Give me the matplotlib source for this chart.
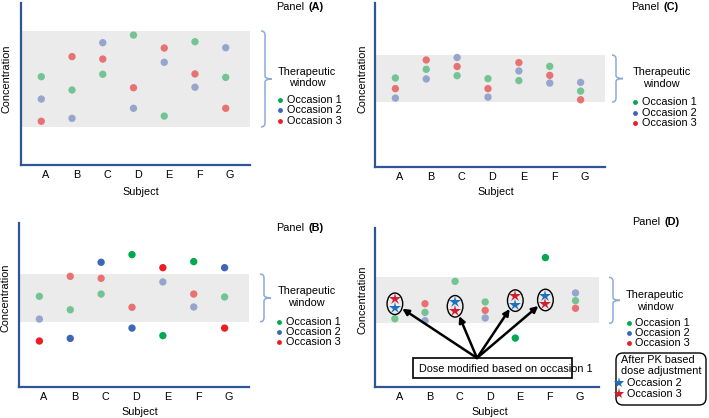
import matplotlib
matplotlib.use('Agg')
import matplotlib.pyplot as plt
import numpy as np
from matplotlib.path import Path
from matplotlib.patches import PathPatch, Ellipse, Rectangle, FancyBboxPatch
from matplotlib.transforms import ScaledTranslation

plt.rcParams['font.family'] = ['Liberation Sans', 'DejaVu Sans']

W, H = 709, 418
FS = 7.8

subjects = ['A', 'B', 'C', 'D', 'E', 'F', 'G']

# Panel A: all occasions inside the window
a_occ1 = [5.45, 4.63, 5.60, 8.02, 3.02, 7.61, 5.41]
a_occ2 = [4.07, 2.88, 7.55, 3.50, 6.34, 4.80, 7.24]
a_occ3 = [2.70, 6.69, 6.54, 4.77, 7.22, 5.62, 3.50]
a_window = (2.35, 8.27)

# Panel B: narrow window, large variability
b_occ1 = [5.52, 4.70, 5.66, 8.07, 3.12, 7.64, 5.48]
b_occ2 = [4.13, 2.95, 7.60, 3.58, 6.40, 4.87, 7.27]
b_occ3 = [2.79, 6.74, 6.62, 4.85, 7.27, 5.66, 3.58]
b_window = (3.97, 6.88)

# Panel C: narrow window, low variability
c_occ1 = [5.42, 5.95, 5.56, 5.38, 5.26, 6.13, 4.62]
c_occ2 = [4.19, 5.36, 6.67, 4.25, 5.85, 5.11, 5.15]
c_occ3 = [4.77, 6.52, 6.12, 4.77, 6.36, 5.58, 4.09]
c_window = (3.95, 6.82)

# Panel D: dose adjusted after occasion 1
d_occ1 = [4.29, 4.69, 6.65, 5.35, 3.07, 8.15, 5.43]
d_occ2 = [4.95, 4.17, 5.37, 4.34, 5.16, 5.75, 5.92]
d_occ3 = [5.52, 5.24, 4.78, 4.82, 5.71, 5.20, 4.95]
d_window = (4.00, 6.90)
d_adjusted = ['A', 'C', 'E', 'F']

strong = ['#00a84f', '#3c67b8', '#ee1c25']
faded = ['#74c493', '#96a5cc', '#e87272']
star_colors = ['#1f6fc0', '#d0202e']
spine_col = '#2f5597'
brace_col = '#8eaad6'

fig = plt.figure(figsize=(W / 100, H / 100), dpi=100)


def px_rect(l, t, r, b):
    return [l / W, 1 - b / H, (r - l) / W, (b - t) / H]


panels = [
    dict(name='A', rect=(21, 3, 250, 165), data=(a_occ1, a_occ2, a_occ3), win=a_window,
         lab=304, laby=7.3, ther=(307, 71.7, 83.3), leg=(280, 286.7, [100.3, 110.3, 120.7]),
         conc=(7, 78.3), subj=(141, 192), brace=265),
    dict(name='B', rect=(19, 223, 249, 386.7), data=(b_occ1, b_occ2, b_occ3), win=b_window,
         lab=304, laby=227.7, ther=(306.7, 291, 303.3), leg=(279.3, 285.7, [321.7, 332, 341.7]),
         conc=(6, 297.5), subj=(140, 411.7), brace=264),
    dict(name='C', rect=(375, 3, 605, 166.7), data=(c_occ1, c_occ2, c_occ3), win=c_window,
         lab=659.5, laby=7.3, ther=(661.7, 71.7, 84), leg=(635, 641.7, [102.3, 113.3, 123.3]),
         conc=(362.3, 79), subj=(495.8, 191.7), brace=616),
    dict(name='D', rect=(375, 228.3, 599.3, 386.7), data=(d_occ1, d_occ2, d_occ3), win=d_window,
         lab=660, laby=222, ther=(655, 295, 306.7), leg=(629, 635, [323, 333, 343]),
         conc=(362.3, 300), subj=(490, 411.7), brace=613),
]

over = fig.add_axes([0, 0, 1, 1], zorder=10)
over.set_xlim(0, W)
over.set_ylim(H, 0)
over.axis('off')
over.patch.set_alpha(0)

x = np.arange(len(subjects))
axes = {}
for p in panels:
    ax = fig.add_axes(px_rect(*p['rect']))
    axes[p['name']] = ax
    ax.set_xlim(-0.66, 6.79)
    ax.set_ylim(0, 10)
    lo, hi = p['win']
    ax.axhspan(lo, hi, color='#ebebeb', lw=0, zorder=0)
    for k, vals in enumerate(p['data']):
        vals = np.array(vals)
        inside = (vals >= lo) & (vals <= hi)
        cols = np.array([faded[k] if i else strong[k] for i in inside])
        keep = np.ones(len(vals), bool)
        if p['name'] == 'D' and k > 0:
            keep = np.array([s not in d_adjusted for s in subjects])
        ax.scatter(x[keep], vals[keep], s=28, c=cols[keep], lw=0, zorder=3)
    for s in ['top', 'right']:
        ax.spines[s].set_visible(False)
    for s in ['left', 'bottom']:
        ax.spines[s].set_color(spine_col)
        ax.spines[s].set_linewidth(1.6)
    ax.set_yticks([])
    ax.set_xticks(x)
    ax.set_xticklabels(subjects, fontsize=FS)
    ax.tick_params(axis='x', length=0, pad=3.6)
    for t in ax.get_xticklabels():
        t.set_transform(t.get_transform() + ScaledTranslation(4.5 / 100, 0, fig.dpi_scale_trans))

    # texts
    over.text(p['lab'], p['laby'], 'Panel', fontsize=FS, ha='right', va='center')
    over.text(p['lab'] + 4.5, p['laby'], '(%s)' % p['name'], fontsize=FS, ha='left', va='center',
              fontweight='bold')
    tx, ty1, ty2 = p['ther']
    over.text(tx, ty1, 'Therapeutic', fontsize=FS, ha='center', va='center')
    over.text(tx, ty2, 'window', fontsize=FS, ha='center', va='center')
    dx, lx, lys = p['leg']
    for k in range(3):
        over.plot(dx, lys[k], 'o', ms=3.5, color=strong[k], mew=0)
        over.text(lx, lys[k], 'Occasion %d' % (k + 1), fontsize=FS, ha='left', va='center')
    over.text(*p['conc'], 'Concentration', fontsize=FS, rotation=90, ha='center', va='center')
    over.text(*p['subj'], 'Subject', fontsize=FS, ha='center', va='center')

    # curly brace next to the window
    yt = H - ax.transData.transform((0, hi))[1]
    yb = H - ax.transData.transform((0, lo))[1]
    ym = (yt + yb) / 2
    xv = p['brace']
    verts = [(xv - 4, yt), (xv, yt), (xv, yt + 4), (xv, ym - 3), (xv, ym), (xv + 7, ym),
             (xv, ym), (xv, ym + 3), (xv, yb - 4), (xv, yb), (xv - 4, yb)]
    codes = [Path.MOVETO, Path.CURVE3, Path.CURVE3, Path.LINETO, Path.CURVE3, Path.CURVE3,
             Path.CURVE3, Path.CURVE3, Path.LINETO, Path.CURVE3, Path.CURVE3]
    over.add_patch(PathPatch(Path(verts, codes), fc='none', ec=brace_col, lw=1.1))

# Panel D: adjusted subjects shown as stars, circled, with arrows
axd = axes['D']
for s in d_adjusted:
    i = subjects.index(s)
    axd.plot(i, d_occ2[i], '*', ms=9, color=star_colors[0], mew=0, zorder=4)
    axd.plot(i, d_occ3[i], '*', ms=9, color=star_colors[1], mew=0, zorder=4)
    mid = (d_occ2[i] + d_occ3[i]) / 2
    ell = Ellipse((i, mid), 0.52, 1.36, fc='none', ec='black', lw=1.0, zorder=5)
    axd.add_patch(ell)
    axd.annotate('', xy=(i, mid), xycoords='data', xytext=(477, H - 358), textcoords='figure pixels',
                 arrowprops=dict(arrowstyle='-|>', color='black', lw=1.8, shrinkA=0, shrinkB=0,
                                 patchB=ell, mutation_scale=9), zorder=6, annotation_clip=False)

over.add_patch(Rectangle((413, 358), 159, 20, fc='none', ec='black', lw=1.2))
over.text(419, 368.5, 'Dose modified based on occasion 1', fontsize=FS, ha='left', va='center')

over.add_patch(FancyBboxPatch((616, 353), 90, 52, boxstyle='round,pad=0,rounding_size=7',
                              fc='none', ec='black', lw=1.0))
over.text(620.7, 360, 'After PK based', fontsize=FS, ha='left', va='center')
over.text(620.7, 370.5, 'dose adjustment', fontsize=FS, ha='left', va='center')
over.plot(619, 382.7, '*', ms=8, color=star_colors[0], mew=0)
over.plot(619, 394, '*', ms=8, color=star_colors[1], mew=0)
over.text(626.7, 382.7, 'Occasion 2', fontsize=FS, ha='left', va='center')
over.text(626.7, 394, 'Occasion 3', fontsize=FS, ha='left', va='center')

fig.savefig('out.png', dpi=100)
